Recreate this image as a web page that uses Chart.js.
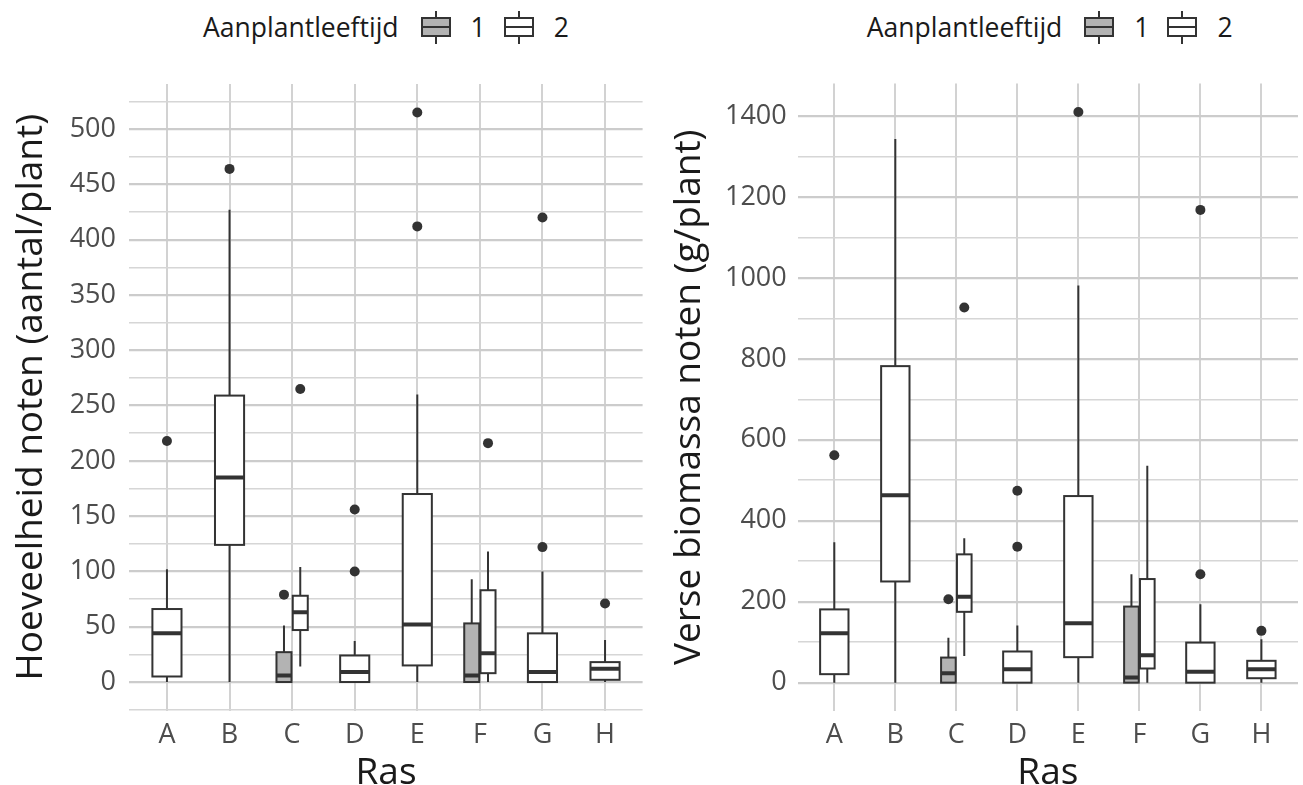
<!DOCTYPE html>
<html lang="nl">
<head>
<meta charset="utf-8">
<title>Noten per ras</title>
<script src="https://cdn.jsdelivr.net/npm/chart.js@4.4.1/dist/chart.umd.min.js"></script>
<style>
  html, body { margin: 0; padding: 0; background: #fff; }
  body { position: relative; width: 1303px; height: 785px; overflow: hidden; font-family: 'Open Sans', sans-serif; }
  canvas { position: absolute; top: 60px; }
  #linksCanvas { left: 0; }
  #rechtsCanvas { left: 650px; }
  .legende { position: absolute; top: 0; height: 54px; display: flex; align-items: center; justify-content: center;
             font-size: 26.5px; color: #1a1a1a; white-space: nowrap; }
  .legende .titel { margin-right: 22px; }
  .sleutel { position: relative; width: 30px; height: 33px; flex: none; }
  .sleutel i { position: absolute; display: block; }
  .sleutel .snor { left: 14px; top: 0; width: 2px; height: 33px; background: #333; }
  .sleutel .doos { left: 0; top: 6px; width: 30px; height: 20px; box-sizing: border-box; border: 2px solid #333; }
  .sleutel .doos::after { content: ''; position: absolute; left: 0; right: 0; top: 7px; height: 2px; background: #333; }
  .sleutel .grijs { background: #b3b3b3; }
  .sleutel .wit { background: #fff; }
  .sleutel + .nr { margin-left: 20px; }
  .nr + .sleutel { margin-left: 18px; }
</style>
</head>
<body>
<div class="legende" style="left:129.4px;width:513.2px">
  <span class="titel">Aanplantleeftijd</span>
  <div class="sleutel"><i class="snor"></i><i class="doos grijs"></i></div><span class="nr">1</span>
  <div class="sleutel"><i class="snor"></i><i class="doos wit"></i></div><span class="nr">2</span>
</div>
<div class="legende" style="left:797.7px;width:504.1px">
  <span class="titel">Aanplantleeftijd</span>
  <div class="sleutel"><i class="snor"></i><i class="doos grijs"></i></div><span class="nr">1</span>
  <div class="sleutel"><i class="snor"></i><i class="doos wit"></i></div><span class="nr">2</span>
</div>
<canvas id="linksCanvas" width="650" height="725"></canvas>
<canvas id="rechtsCanvas" width="653" height="725"></canvas>
<script>
const rassen = ['A', 'B', 'C', 'D', 'E', 'F', 'G', 'H'];

// Hoeveelheid noten (aantal/plant) - aanplantleeftijd 1 (null = ras niet in deze groep)
const aantal1Min = [null, null, 0, null, null, 0, null, null];
const aantal1Q1  = [null, null, 0, null, null, 0, null, null];
const aantal1Med = [null, null, 6, null, null, 6, null, null];
const aantal1Q3  = [null, null, 27, null, null, 53, null, null];
const aantal1Max = [null, null, 51, null, null, 93, null, null];
const aantal1Uit = [[], [], [79], [], [], [], [], []];

// Hoeveelheid noten - aanplantleeftijd 2
const aantal2Min = [0, 0, 14, 0, 0, 0, 0, 0];
const aantal2Q1  = [5, 124, 47, 0, 15, 8, 0, 2];
const aantal2Med = [44, 185, 63, 9, 52, 26, 9, 12];
const aantal2Q3  = [66, 259, 78, 24, 170, 83, 44, 18];
const aantal2Max = [102, 427, 104, 37, 260, 118, 100, 38];
const aantal2Uit = [[218], [464], [265], [156, 100], [515, 412], [216], [420, 122], [71]];

// Verse biomassa noten (g/plant) - aanplantleeftijd 1
const massa1Min = [null, null, 0, null, null, 0, null, null];
const massa1Q1  = [null, null, 0, null, null, 0, null, null];
const massa1Med = [null, null, 23, null, null, 13, null, null];
const massa1Q3  = [null, null, 62, null, null, 188, null, null];
const massa1Max = [null, null, 111, null, null, 268, null, null];
const massa1Uit = [[], [], [206], [], [], [], [], []];

// Verse biomassa noten - aanplantleeftijd 2
const massa2Min = [0, 0, 66, 0, 0, 0, 0, 0];
const massa2Q1  = [21, 250, 175, 0, 63, 35, 0, 11];
const massa2Med = [122, 463, 212, 33, 147, 68, 27, 33];
const massa2Q3  = [181, 782, 317, 77, 461, 256, 99, 54];
const massa2Max = [347, 1343, 357, 141, 981, 536, 194, 107];
const massa2Uit = [[562], [], [927], [474, 336], [1410], [], [1168, 268], [128]];

// Asverdeling
const aantalTicks = [0, 50, 100, 150, 200, 250, 300, 350, 400, 450, 500];
const aantalHulplijnen = [-25, 25, 75, 125, 175, 225, 275, 325, 375, 425, 475, 525];
const massaTicks = [0, 200, 400, 600, 800, 1000, 1200, 1400];
const massaHulplijnen = [100, 300, 500, 700, 900, 1100, 1300];

const BOX_BREEDTE = 0.465;   // in categorie-eenheden
const DODGE = 0.13;
const DODGE_HALF = 0.12;
const LIJN = '#333333';

Chart.defaults.font.family = "'Open Sans', sans-serif";

function boxPositie(groepen, gi, i) {
    const aanwezig = groepen.map((g, k) => k).filter(k => groepen[k].med[i] != null);
    if (aanwezig.length < 2) return { midden: i + 1, half: BOX_BREEDTE / 2 };
    const k = aanwezig.indexOf(gi);
    return { midden: i + 1 + (k === 0 ? -DODGE : DODGE), half: DODGE_HALF };
}

// Tekent dozen, snorharen en medianen via de schalen van de grafiek
function boxplotPlugin(groepen) {
    return {
        id: 'boxplot',
        beforeDatasetsDraw(chart) {
            const { ctx, chartArea: ca, scales: { x, y } } = chart;
            ctx.save();
            ctx.beginPath();
            ctx.rect(ca.left, ca.top, ca.width, ca.height);
            ctx.clip();
            ctx.strokeStyle = LIJN;
            groepen.forEach((g, gi) => {
                rassen.forEach((ras, i) => {
                    if (g.med[i] == null) return;
                    const { midden, half } = boxPositie(groepen, gi, i);
                    const xm = x.getPixelForValue(midden);
                    const x0 = x.getPixelForValue(midden - half);
                    const x1 = x.getPixelForValue(midden + half);
                    const yMin = y.getPixelForValue(g.min[i]);
                    const yQ1 = y.getPixelForValue(g.q1[i]);
                    const yMed = y.getPixelForValue(g.med[i]);
                    const yQ3 = y.getPixelForValue(g.q3[i]);
                    const yMax = y.getPixelForValue(g.max[i]);

                    ctx.lineWidth = 2;
                    ctx.beginPath();
                    ctx.moveTo(xm, yQ3); ctx.lineTo(xm, yMax);
                    ctx.moveTo(xm, yQ1); ctx.lineTo(xm, yMin);
                    ctx.stroke();

                    ctx.fillStyle = g.vulling;
                    ctx.fillRect(x0, yQ3, x1 - x0, yQ1 - yQ3);
                    ctx.strokeRect(x0, yQ3, x1 - x0, yQ1 - yQ3);

                    ctx.lineWidth = 4;
                    ctx.beginPath();
                    ctx.moveTo(x0, yMed); ctx.lineTo(x1, yMed);
                    ctx.stroke();
                });
            });
            ctx.restore();
        }
    };
}

function maakGrafiek(canvasId, groepen, ticks, hulplijnen, titel, maat) {
    const waarden = groepen.flatMap(g => [...g.min, ...g.max, ...g.uit.flat()]).filter(v => v != null);
    const lo = Math.min(...waarden);
    const hi = Math.max(...waarden);
    const marge = (hi - lo) * 0.05;
    const hoofd = new Set(ticks);

    return new Chart(document.getElementById(canvasId), {
        type: 'scatter',
        data: {
            datasets: groepen.map((g, gi) => ({
                label: g.naam,
                data: rassen.flatMap((r, i) => g.uit[i].map(v => ({ x: boxPositie(groepen, gi, i).midden, y: v }))),
                pointRadius: 5,
                pointHoverRadius: 5,
                pointBackgroundColor: LIJN,
                pointBorderWidth: 0
            }))
        },
        options: {
            responsive: false,
            animation: false,
            devicePixelRatio: 1,
            layout: { padding: { top: maat.boven, right: maat.rechts, left: 0, bottom: 0 } },
            plugins: {
                legend: { display: false },
                tooltip: { enabled: false }
            },
            scales: {
                x: {
                    type: 'linear',
                    min: 0.4,
                    max: rassen.length + 0.6,
                    afterBuildTicks: s => { s.ticks = rassen.map((r, i) => ({ value: i + 1 })); },
                    afterFit: s => { s.height = maat.xHoogte; s.paddingLeft = 0; s.paddingRight = 0; },
                    border: { display: false },
                    grid: { color: '#d2d2d2', lineWidth: 2, drawTicks: false },
                    ticks: {
                        autoSkip: false, maxRotation: 0, padding: maat.xPad,
                        color: '#4d4d4d', font: { size: 27 },
                        callback: v => rassen[Math.round(v) - 1]
                    },
                    title: {
                        display: true, text: 'Ras', color: '#1a1a1a',
                        font: { size: 37, lineHeight: 0.6 }, padding: 0
                    }
                },
                y: {
                    type: 'linear',
                    min: lo - marge,
                    max: hi + marge,
                    afterBuildTicks: s => {
                        s.ticks = [...hulplijnen, ...ticks].sort((a, b) => a - b).map(v => ({ value: v }));
                    },
                    afterFit: s => { s.width = maat.yBreedte; s.paddingTop = 0; s.paddingBottom = 0; },
                    border: { display: false },
                    grid: {
                        drawTicks: false,
                        color: c => (c.tick && hoofd.has(c.tick.value)) ? '#cccccc' : '#d6d6d6',
                        lineWidth: c => (c.tick && hoofd.has(c.tick.value)) ? 2.2 : 1.6
                    },
                    ticks: {
                        autoSkip: false, padding: maat.yPad,
                        color: '#4d4d4d', font: { size: 27 },
                        callback: v => hoofd.has(v) ? String(v) : ''
                    },
                    title: {
                        display: true, text: titel, color: '#1a1a1a',
                        font: { size: 37, lineHeight: 1.2 }, padding: { top: maat.titelPad, bottom: 0 }
                    }
                }
            }
        },
        plugins: [boxplotPlugin(groepen)]
    });
}

maakGrafiek('linksCanvas', [
    { naam: '1', vulling: '#b3b3b3', min: aantal1Min, q1: aantal1Q1, med: aantal1Med, q3: aantal1Q3, max: aantal1Max, uit: aantal1Uit },
    { naam: '2', vulling: '#ffffff', min: aantal2Min, q1: aantal2Q1, med: aantal2Med, q3: aantal2Q3, max: aantal2Max, uit: aantal2Uit }
], aantalTicks, aantalHulplijnen, 'Hoeveelheid noten (aantal/plant)',
   { boven: 24, rechts: 7.4, xHoogte: 74.5, yBreedte: 129.4, xPad: 9, yPad: 13.4, titelPad: 9 });

maakGrafiek('rechtsCanvas', [
    { naam: '1', vulling: '#b3b3b3', min: massa1Min, q1: massa1Q1, med: massa1Med, q3: massa1Q3, max: massa1Max, uit: massa1Uit },
    { naam: '2', vulling: '#ffffff', min: massa2Min, q1: massa2Q1, med: massa2Med, q3: massa2Q3, max: massa2Max, uit: massa2Uit }
], massaTicks, massaHulplijnen, 'Verse biomassa noten (g/plant)',
   { boven: 23.4, rechts: 1.2, xHoogte: 73.8, yBreedte: 147.7, xPad: 8, yPad: 11, titelPad: 17 });
</script>
</body>
</html>
